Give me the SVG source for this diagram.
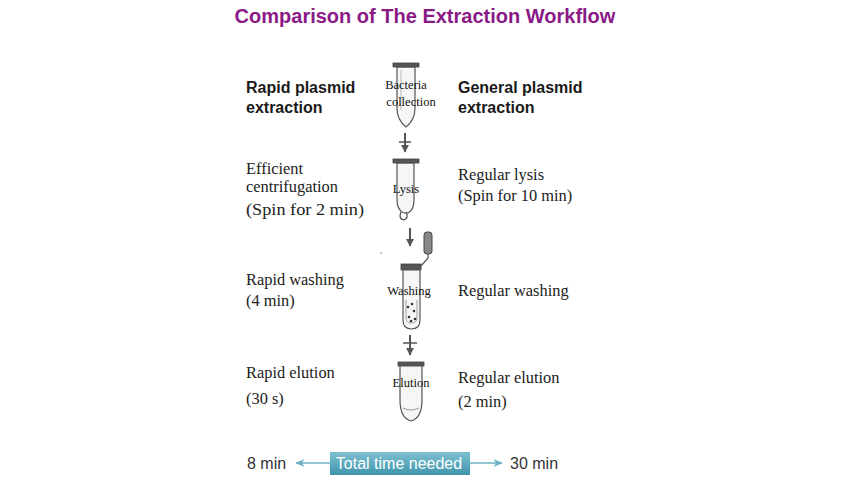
<svg xmlns="http://www.w3.org/2000/svg" width="853" height="480" viewBox="0 0 853 480">
<defs>
<style>
.hd{font-family:"Liberation Sans",Arial,sans-serif;font-weight:bold;font-size:16px;fill:#1a1a1a}
.sr{font-family:"Liberation Serif","Times New Roman",serif;font-size:16.4px;fill:#222}
.tl{font-family:"Liberation Serif","Times New Roman",serif;font-size:12.5px;fill:#111}
.tube{fill:#f6f6f6;stroke:#555;stroke-width:1.2}
.cap{fill:#555;stroke:#444;stroke-width:0.8}
.ar{stroke:#555;stroke-width:2;fill:none}
.sn{font-family:"Liberation Sans",Arial,sans-serif;font-size:16px;fill:#333}
</style>
<linearGradient id="bx" x1="0" y1="0" x2="0" y2="1">
<stop offset="0" stop-color="#7ec0d0"/>
<stop offset="1" stop-color="#3f95ad"/>
</linearGradient>
<marker id="ah" viewBox="0 0 10 10" refX="9" refY="5" markerWidth="4" markerHeight="4" orient="auto">
<path d="M0,0 L10,5 L0,10 z" fill="#555"/>
</marker>
<marker id="th" viewBox="0 0 12 10" refX="11" refY="5" markerWidth="6" markerHeight="5" orient="auto">
<path d="M0,0 L12,5 L0,10 L3,5 z" fill="#6cb2c6"/>
</marker>
</defs>
<rect width="853" height="480" fill="#ffffff"/>
<text x="425" y="23" text-anchor="middle" font-family="Liberation Sans,Arial,sans-serif" font-weight="bold" font-size="20" fill="#8a1a86">Comparison of The Extraction Workflow</text>

<g id="left-header"><text class="hd" x="246" y="93">Rapid plasmid</text><text class="hd" x="246" y="113">extraction</text></g>
<g id="right-header"><text class="hd" x="458" y="93">General plasmid</text><text class="hd" x="458" y="113">extraction</text></g>

<g id="left-step1"><text class="sr" x="246" y="174">Efficient</text><text class="sr" x="246" y="192">centrifugation</text><text class="sr" x="246" y="215" font-size="17" textLength="118" lengthAdjust="spacingAndGlyphs">(Spin for 2 min)</text></g>
<g id="right-step1"><text class="sr" x="458" y="180">Regular lysis</text><text class="sr" x="458" y="201">(Spin for 10 min)</text></g>
<g id="left-step2"><text class="sr" x="246" y="285">Rapid washing</text><text class="sr" x="246" y="306">(4 min)</text></g>
<g id="right-step2"><text class="sr" x="458" y="296">Regular washing</text></g>
<g id="left-step3"><text class="sr" x="246" y="378">Rapid elution</text><text class="sr" x="246" y="404">(30 s)</text></g>
<g id="right-step3"><text class="sr" x="458" y="383">Regular elution</text><text class="sr" x="458" y="407">(2 min)</text></g>

<g id="tube-bacteria">
<path class="tube" d="M397,67 L397,108 Q397,120 406,127 Q415,120 415,108 L415,67 Z"/>
<rect class="cap" x="393" y="63" width="26" height="4"/>
<line x1="401" y1="70" x2="401" y2="110" stroke="#bbb" stroke-width="1"/>
<text class="tl" x="406" y="89" text-anchor="middle">Bacteria</text>
<text class="tl" x="411" y="106" text-anchor="middle">collection</text>
</g>
<g id="tube-lysis">
<path class="tube" d="M397,163 L397,200 Q397,210 404,213 L408,213 Q414,210 414,200 L414,163 Z"/>
<path d="M401,212 Q398,219 404,220 Q409,218 406,212" fill="none" stroke="#444" stroke-width="1.2"/>
<rect class="cap" x="393" y="159" width="26" height="4"/>
<text class="tl" x="406" y="193" text-anchor="middle">Lysis</text>
</g>
<g id="tube-washing">
<rect class="cap" x="401" y="264" width="20" height="6"/>
<path class="tube" d="M403,270 L403,320 Q403,329 411.5,329 Q420,329 420,320 L420,270 Z"/>
<path d="M406,300 L406,318 Q406,323 411.5,323 Q417,323 417,318 L417,300" fill="none" stroke="#888" stroke-width="0.8"/>
<path d="M421,266 L428,258 L428,240" fill="none" stroke="#555" stroke-width="1.2"/>
<rect x="424" y="232" width="8" height="22" rx="3" fill="#888" stroke="#444" stroke-width="1"/>
<circle cx="408" cy="307" r="1.3" fill="#333"/><circle cx="414" cy="311" r="1.3" fill="#333"/>
<circle cx="409" cy="317" r="1.3" fill="#333"/><circle cx="415" cy="319" r="1.3" fill="#333"/>
<circle cx="411" cy="321" r="1.3" fill="#333"/><circle cx="412" cy="304" r="1.3" fill="#333"/>
<text class="tl" x="409" y="295" text-anchor="middle">Washing</text>
</g>
<g id="tube-elution">
<rect class="cap" x="398" y="362" width="26" height="4"/>
<path class="tube" d="M400,366 L400,400 Q400,418 411,421 Q422,418 422,400 L422,366 Z"/>
<path d="M403,408 Q411,412 419,408" fill="none" stroke="#999" stroke-width="1"/>
<text class="tl" x="411" y="387" text-anchor="middle">Elution</text>
</g>

<g id="connectors">
<line class="ar" x1="405" y1="133" x2="405" y2="152" marker-end="url(#ah)"/>
<line x1="399" y1="142" x2="411" y2="142" stroke="#555" stroke-width="1.5"/>
<line class="ar" x1="410" y1="228" x2="410" y2="246" marker-end="url(#ah)"/>
<line class="ar" x1="410" y1="335" x2="410" y2="355" marker-end="url(#ah)"/>
<line x1="403" y1="343" x2="417" y2="343" stroke="#555" stroke-width="1.5"/>
<line x1="330" y1="463" x2="296" y2="463" stroke="#6cb2c6" stroke-width="1.5" marker-end="url(#th)"/>
<line x1="470" y1="463" x2="502" y2="463" stroke="#6cb2c6" stroke-width="1.5" marker-end="url(#th)"/>
</g>
<circle cx="381" cy="253" r="0.8" fill="#6688aa"/>

<g id="total">
<rect x="330" y="452" width="140" height="23" fill="url(#bx)"/>
<text x="399" y="469" text-anchor="middle" font-family="Liberation Sans,Arial,sans-serif" font-size="16" fill="#ffffff">Total time needed</text>
</g>
<text class="sn" x="247" y="469">8 min</text>
<text class="sn" x="510" y="469">30 min</text>
</svg>
